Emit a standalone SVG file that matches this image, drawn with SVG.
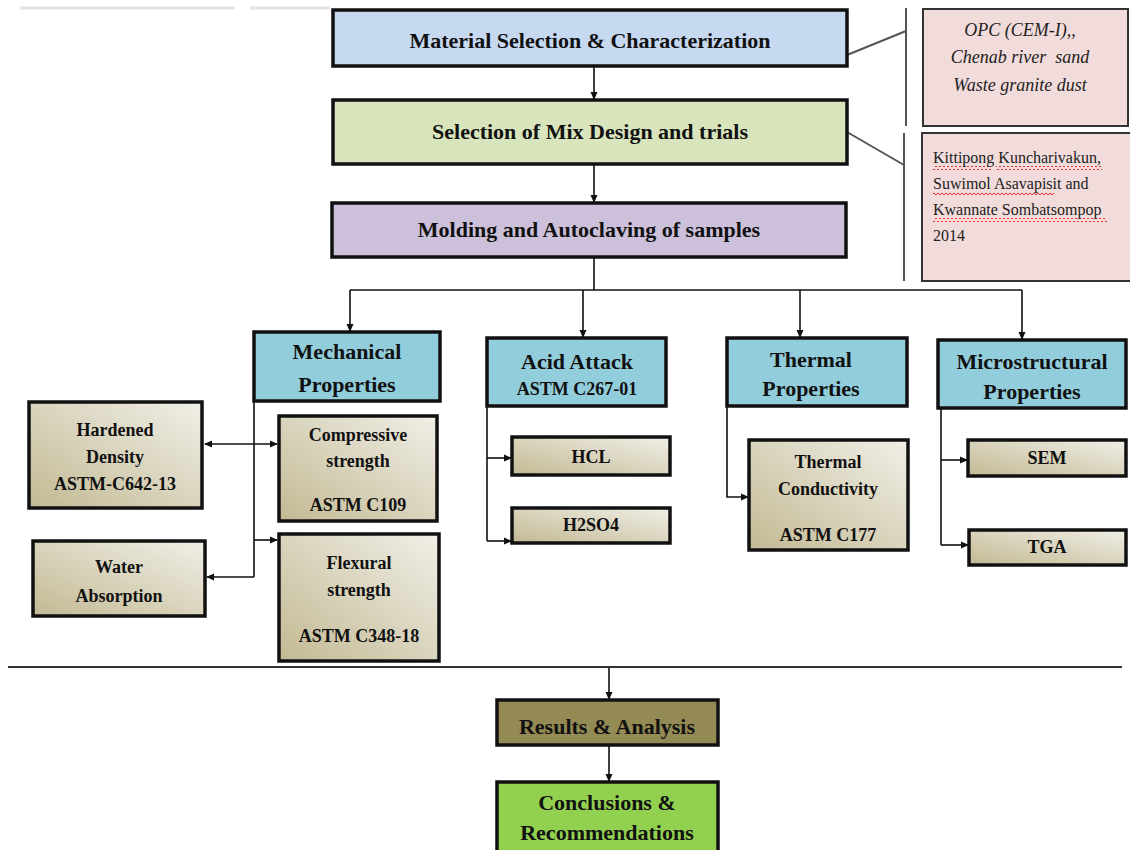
<svg xmlns="http://www.w3.org/2000/svg" width="1130" height="850" viewBox="0 0 1130 850">
<style>
.box{stroke:#111;stroke-width:3.5}
.t{font-family:"Liberation Serif","Times New Roman",serif;font-weight:bold;fill:#111;text-anchor:middle}
.h{font-size:22px}
.s{font-size:18px}
.it{font-family:"Liberation Serif","Times New Roman",serif;font-style:italic;font-size:18px;fill:#222;text-anchor:middle}
.ref{font-family:"Liberation Serif","Times New Roman",serif;font-size:16px;fill:#222}
.ln{stroke:#111;stroke-width:1.6;fill:none}
.arr{stroke:#111;stroke-width:1.6;fill:none;marker-end:url(#ah)}
.gl{stroke:#555;stroke-width:2;fill:none}
</style>
<defs>
<marker id="ah" markerWidth="8" markerHeight="8" refX="7" refY="4" orient="auto" markerUnits="userSpaceOnUse">
<path d="M0,0.5 L8,4 L0,7.5 Z" fill="#111"/>
</marker>
<marker id="ahs" markerWidth="8" markerHeight="8" refX="1" refY="4" orient="auto" markerUnits="userSpaceOnUse">
<path d="M8,0.5 L0,4 L8,7.5 Z" fill="#111"/>
</marker>
<linearGradient id="khaki" x1="0" y1="1" x2="1" y2="0">
<stop offset="0" stop-color="#c2b993"/>
<stop offset="1" stop-color="#f1efe7"/>
</linearGradient>
<pattern id="wavy" width="4" height="4" patternUnits="userSpaceOnUse">
<path d="M0,3 L2,1 L4,3" stroke="#e03030" stroke-width="1" fill="none"/>
</pattern>
</defs>
<rect width="1130" height="850" fill="#fff"/>
<line x1="20" y1="8" x2="235" y2="8" stroke="#e4e4e4" stroke-width="3"/>
<line x1="250" y1="8" x2="330" y2="8" stroke="#e4e4e4" stroke-width="3"/>

<g id="connectors">
<line class="arr" x1="594" y1="66" x2="594" y2="99"/>
<line class="arr" x1="594" y1="164" x2="594" y2="202"/>
<line class="ln" x1="594" y1="257" x2="594" y2="290"/>
<line class="ln" x1="350" y1="290" x2="1022" y2="290"/>
<line class="arr" x1="350" y1="290" x2="350" y2="331"/>
<line class="arr" x1="583" y1="290" x2="583" y2="337"/>
<line class="arr" x1="800" y1="290" x2="800" y2="337"/>
<line class="arr" x1="1022" y1="290" x2="1022" y2="339"/>
<line class="ln" x1="254" y1="401" x2="254" y2="577"/>
<line class="arr" x1="205" y1="444" x2="277" y2="444" style="marker-start:url(#ahs)"/>
<line class="arr" x1="254" y1="540" x2="277" y2="540"/>
<line class="arr" x1="254" y1="577" x2="207" y2="577"/>
<line class="ln" x1="487" y1="406" x2="487" y2="541"/>
<line class="arr" x1="487" y1="458" x2="511" y2="458"/>
<line class="arr" x1="487" y1="541" x2="511" y2="541"/>
<polyline class="arr" points="727,406 727,497 748,497"/>
<line class="ln" x1="941" y1="408" x2="941" y2="545"/>
<line class="arr" x1="941" y1="460" x2="967" y2="460"/>
<line class="arr" x1="941" y1="545" x2="968" y2="545"/>
<line x1="8" y1="667" x2="1122" y2="667" stroke="#333" stroke-width="2"/>
<line class="arr" x1="609" y1="668" x2="609" y2="699"/>
<line class="arr" x1="609" y1="745" x2="609" y2="781"/>
<line class="gl" x1="906" y1="8" x2="906" y2="126"/>
<line class="gl" x1="847" y1="55" x2="906" y2="31"/>
<line class="gl" x1="904" y1="133" x2="904" y2="281"/>
<line class="gl" x1="847" y1="132" x2="904" y2="165"/>
</g>

<g id="material">
<rect class="box" x="333" y="10" width="514" height="56" fill="#c6d9f0"/>
<text class="t h" x="590" y="48">Material Selection &amp; Characterization</text>
</g>
<g id="mix">
<rect class="box" x="333" y="100" width="514" height="64" fill="#d7e4bc"/>
<text class="t h" x="590" y="139">Selection of Mix Design and trials</text>
</g>
<g id="molding">
<rect class="box" x="332" y="203" width="514" height="54" fill="#ccc0da"/>
<text class="t h" x="589" y="237">Molding and Autoclaving of samples</text>
</g>

<g id="opc">
<rect x="923" y="9" width="205" height="117" fill="#f2dcdb" stroke="#333" stroke-width="2"/>
<text class="it" x="1020" y="36">OPC (CEM-I),,</text>
<text class="it" x="1020" y="63" xml:space="preserve">Chenab river  sand</text>
<text class="it" x="1020" y="91">Waste granite dust</text>
</g>
<g id="ref">
<rect x="922" y="133" width="212" height="148" fill="#f2dcdb" stroke="#333" stroke-width="2"/>
<rect x="933" y="166" width="58" height="4" fill="url(#wavy)"/>
<rect x="996" y="166" width="106" height="4" fill="url(#wavy)"/>
<rect x="933" y="192" width="121" height="4" fill="url(#wavy)"/>
<rect x="933" y="218" width="174" height="4" fill="url(#wavy)"/>
<text class="ref" x="933" y="163">Kittipong Kuncharivakun,</text>
<text class="ref" x="933" y="189">Suwimol Asavapisit and</text>
<text class="ref" x="933" y="215">Kwannate Sombatsompop</text>
<text class="ref" x="933" y="241">2014</text>
</g>

<g id="mechanical">
<rect class="box" x="254" y="332" width="186" height="69" fill="#92cddc"/>
<text class="t h" x="347" y="359">Mechanical</text>
<text class="t h" x="347" y="392">Properties</text>
</g>
<g id="acid">
<rect class="box" x="487" y="338" width="179" height="68" fill="#92cddc"/>
<text class="t h" x="577" y="369">Acid Attack</text>
<text class="t s" x="577" y="395">ASTM C267-01</text>
</g>
<g id="thermal">
<rect class="box" x="727" y="338" width="180" height="68" fill="#92cddc"/>
<text class="t h" x="811" y="367">Thermal</text>
<text class="t h" x="811" y="396">Properties</text>
</g>
<g id="micro">
<rect class="box" x="938" y="340" width="188" height="68" fill="#92cddc"/>
<text class="t h" x="1032" y="369">Microstructural</text>
<text class="t h" x="1032" y="399">Properties</text>
</g>

<g id="hardened">
<rect class="box" x="29" y="402" width="173" height="106" fill="url(#khaki)"/>
<text class="t s" x="115" y="436">Hardened</text>
<text class="t s" x="115" y="463">Density</text>
<text class="t s" x="115" y="490">ASTM-C642-13</text>
</g>
<g id="compressive">
<rect class="box" x="279" y="416" width="158" height="105" fill="url(#khaki)"/>
<text class="t s" x="358" y="441">Compressive</text>
<text class="t s" x="358" y="467">strength</text>
<text class="t s" x="358" y="511">ASTM C109</text>
</g>
<g id="water">
<rect class="box" x="33" y="541" width="172" height="75" fill="url(#khaki)"/>
<text class="t s" x="119" y="573">Water</text>
<text class="t s" x="119" y="602">Absorption</text>
</g>
<g id="flexural">
<rect class="box" x="279" y="534" width="160" height="127" fill="url(#khaki)"/>
<text class="t s" x="359" y="569">Flexural</text>
<text class="t s" x="359" y="596">strength</text>
<text class="t s" x="359" y="642">ASTM C348-18</text>
</g>
<g id="hcl">
<rect class="box" x="512" y="437" width="158" height="38" fill="url(#khaki)"/>
<text class="t s" x="591" y="463">HCL</text>
</g>
<g id="h2so4">
<rect class="box" x="512" y="508" width="158" height="35" fill="url(#khaki)"/>
<text class="t s" x="591" y="531">H2SO4</text>
</g>
<g id="conductivity">
<rect class="box" x="749" y="440" width="159" height="110" fill="url(#khaki)"/>
<text class="t s" x="828" y="468">Thermal</text>
<text class="t s" x="828" y="495">Conductivity</text>
<text class="t s" x="828" y="541">ASTM C177</text>
</g>
<g id="sem">
<rect class="box" x="968" y="440" width="158" height="36" fill="url(#khaki)"/>
<text class="t s" x="1047" y="464">SEM</text>
</g>
<g id="tga">
<rect class="box" x="969" y="530" width="157" height="35" fill="url(#khaki)"/>
<text class="t s" x="1047" y="553">TGA</text>
</g>

<g id="results">
<rect class="box" x="497" y="700" width="221" height="45" fill="#948a54"/>
<text class="t h" x="607" y="734">Results &amp; Analysis</text>
</g>
<g id="conclusions">
<rect class="box" x="497" y="782" width="221" height="75" fill="#92d050"/>
<text class="t h" x="607" y="810">Conclusions &amp;</text>
<text class="t h" x="607" y="840">Recommendations</text>
</g>
</svg>
